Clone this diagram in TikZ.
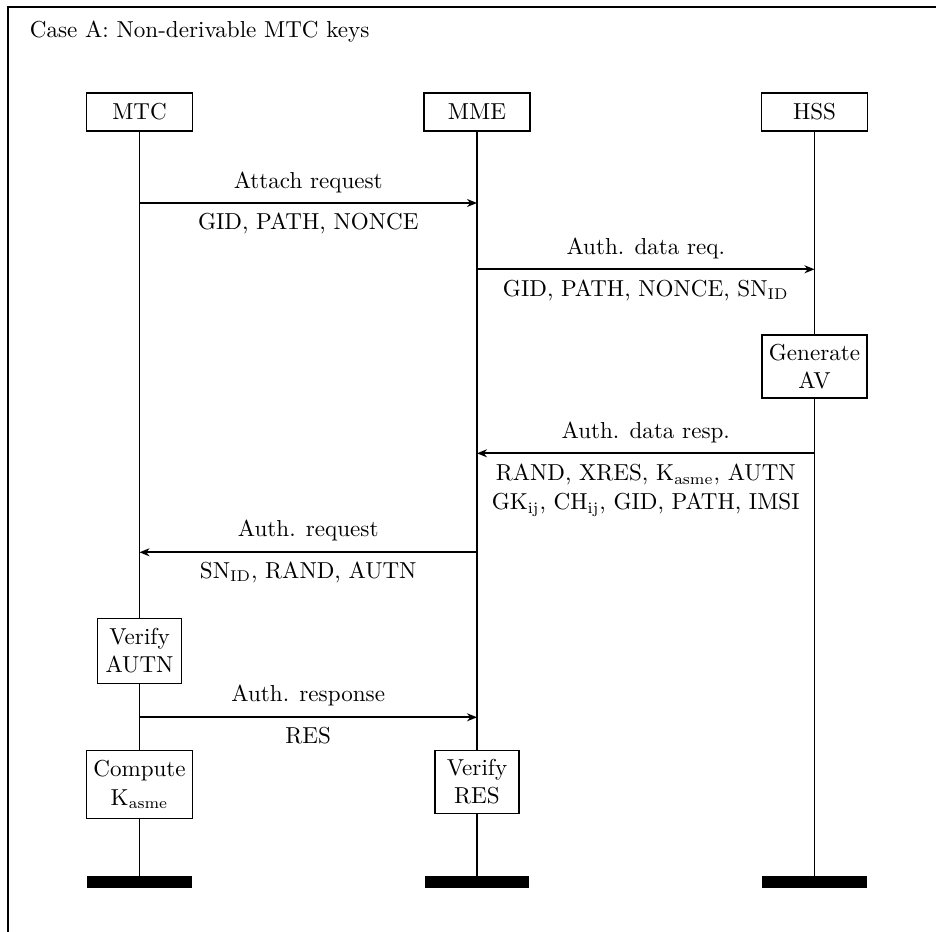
\documentclass[tikz,border=0pt]{standalone}
\usetikzlibrary{arrows.meta,backgrounds}
\begin{document}
\begin{tikzpicture}[x=0.4484pt,y=-0.4484pt,
  every node/.style={font=\fontsize{10.35pt}{12.6pt}\selectfont},
  lw/.style={line width=0.8pt},
  actor/.style={draw,lw,fill=white,minimum width=47.5pt,minimum height=17pt,inner sep=2pt},
  act/.style={draw,lw,align=center,fill=white,inner sep=2.5pt},
  endbar/.style={fill=black,minimum width=47pt,minimum height=5.4pt,inner sep=0pt},
  msg/.style={lw,-{Stealth[length=4.5pt,width=3.6pt]}},
  lab/.style={anchor=base,inner sep=0pt}
]
\useasboundingbox (0,0) rectangle (936,932);
% frame
\draw[lw] (8,932) -- (8,7) -- (936,7);
\node[anchor=base west,inner sep=0pt] (title) at (29.5,37.3) {Case A: Non-derivable MTC keys};

% actors
\node[actor] (mtc) at (139.5,112) {MTC};
\node[actor] (mme) at (477,112) {MME};
\node[actor] (hss) at (814.5,112) {HSS};

% end bars
\node[endbar] (mtcend) at (139.5,882) {};
\node[endbar] (mmeend) at (477,882) {};
\node[endbar] (hssend) at (814.5,882) {};

% lifelines
\begin{scope}[on background layer]
\draw[lw] (mtc) -- (mtcend);
\draw[lw] (mme) -- (mmeend);
\draw[lw] (hss) -- (hssend);
\end{scope}

% actions
\node[act,minimum width=47pt,minimum height=28.3pt] (gen) at (814.5,366.5) {Generate\\AV};
\node[act,minimum width=37.7pt,minimum height=29.1pt] (vautn) at (139.5,651) {Verify\\AUTN};
\node[act,minimum width=47.5pt,minimum height=30.5pt] (comp) at (139.5,784.5) {Compute\\K$_\mathrm{asme}$};
\node[act,minimum width=37.7pt,minimum height=28.3pt] (vres) at (477,782) {Verify\\RES};

% message end points on lifelines
\coordinate (m1a) at (mtc |- 0,203);
\coordinate (m1b) at (mme |- 0,203);
\coordinate (m2a) at (mme |- 0,269.3);
\coordinate (m2b) at (hss |- 0,269.3);
\coordinate (m3a) at (hss |- 0,453.3);
\coordinate (m3b) at (mme |- 0,453.3);
\coordinate (m4a) at (mme |- 0,552.3);
\coordinate (m4b) at (mtc |- 0,552.3);
\coordinate (m5a) at (mtc |- 0,717.3);
\coordinate (m5b) at (mme |- 0,717.3);

% messages
\draw[msg] (m1a) -- (m1b)
  node[lab,midway,yshift=6.7pt] (l1a) {Attach request}
  node[lab,midway,yshift=-12pt] (l1b) {GID, PATH, NONCE};
\draw[msg] (m2a) -- (m2b)
  node[lab,midway,yshift=6.7pt] (l2a) {Auth. data req.}
  node[lab,midway,yshift=-12pt] (l2b) {GID, PATH, NONCE, SN$_\mathrm{ID}$};
\draw[msg] (m3a) -- (m3b)
  node[lab,midway,yshift=6.7pt] (l3a) {Auth. data resp.}
  node[lab,midway,yshift=-12.3pt] (l3b) {RAND, XRES, K$_\mathrm{asme}$, AUTN}
  node[lab,midway,yshift=-25.4pt] (l3c) {GK$_\mathrm{ij}$, CH$_\mathrm{ij}$, GID, PATH, IMSI};
\draw[msg] (m4a) -- (m4b)
  node[lab,midway,yshift=6.9pt] (l4a) {Auth. request}
  node[lab,midway,yshift=-11.7pt] (l4b) {SN$_\mathrm{ID}$, RAND, AUTN};
\draw[msg] (m5a) -- (m5b)
  node[lab,midway,yshift=6.9pt] (l5a) {Auth. response}
  node[lab,midway,yshift=-11.7pt] (l5b) {RES};
\end{tikzpicture}
\end{document}
